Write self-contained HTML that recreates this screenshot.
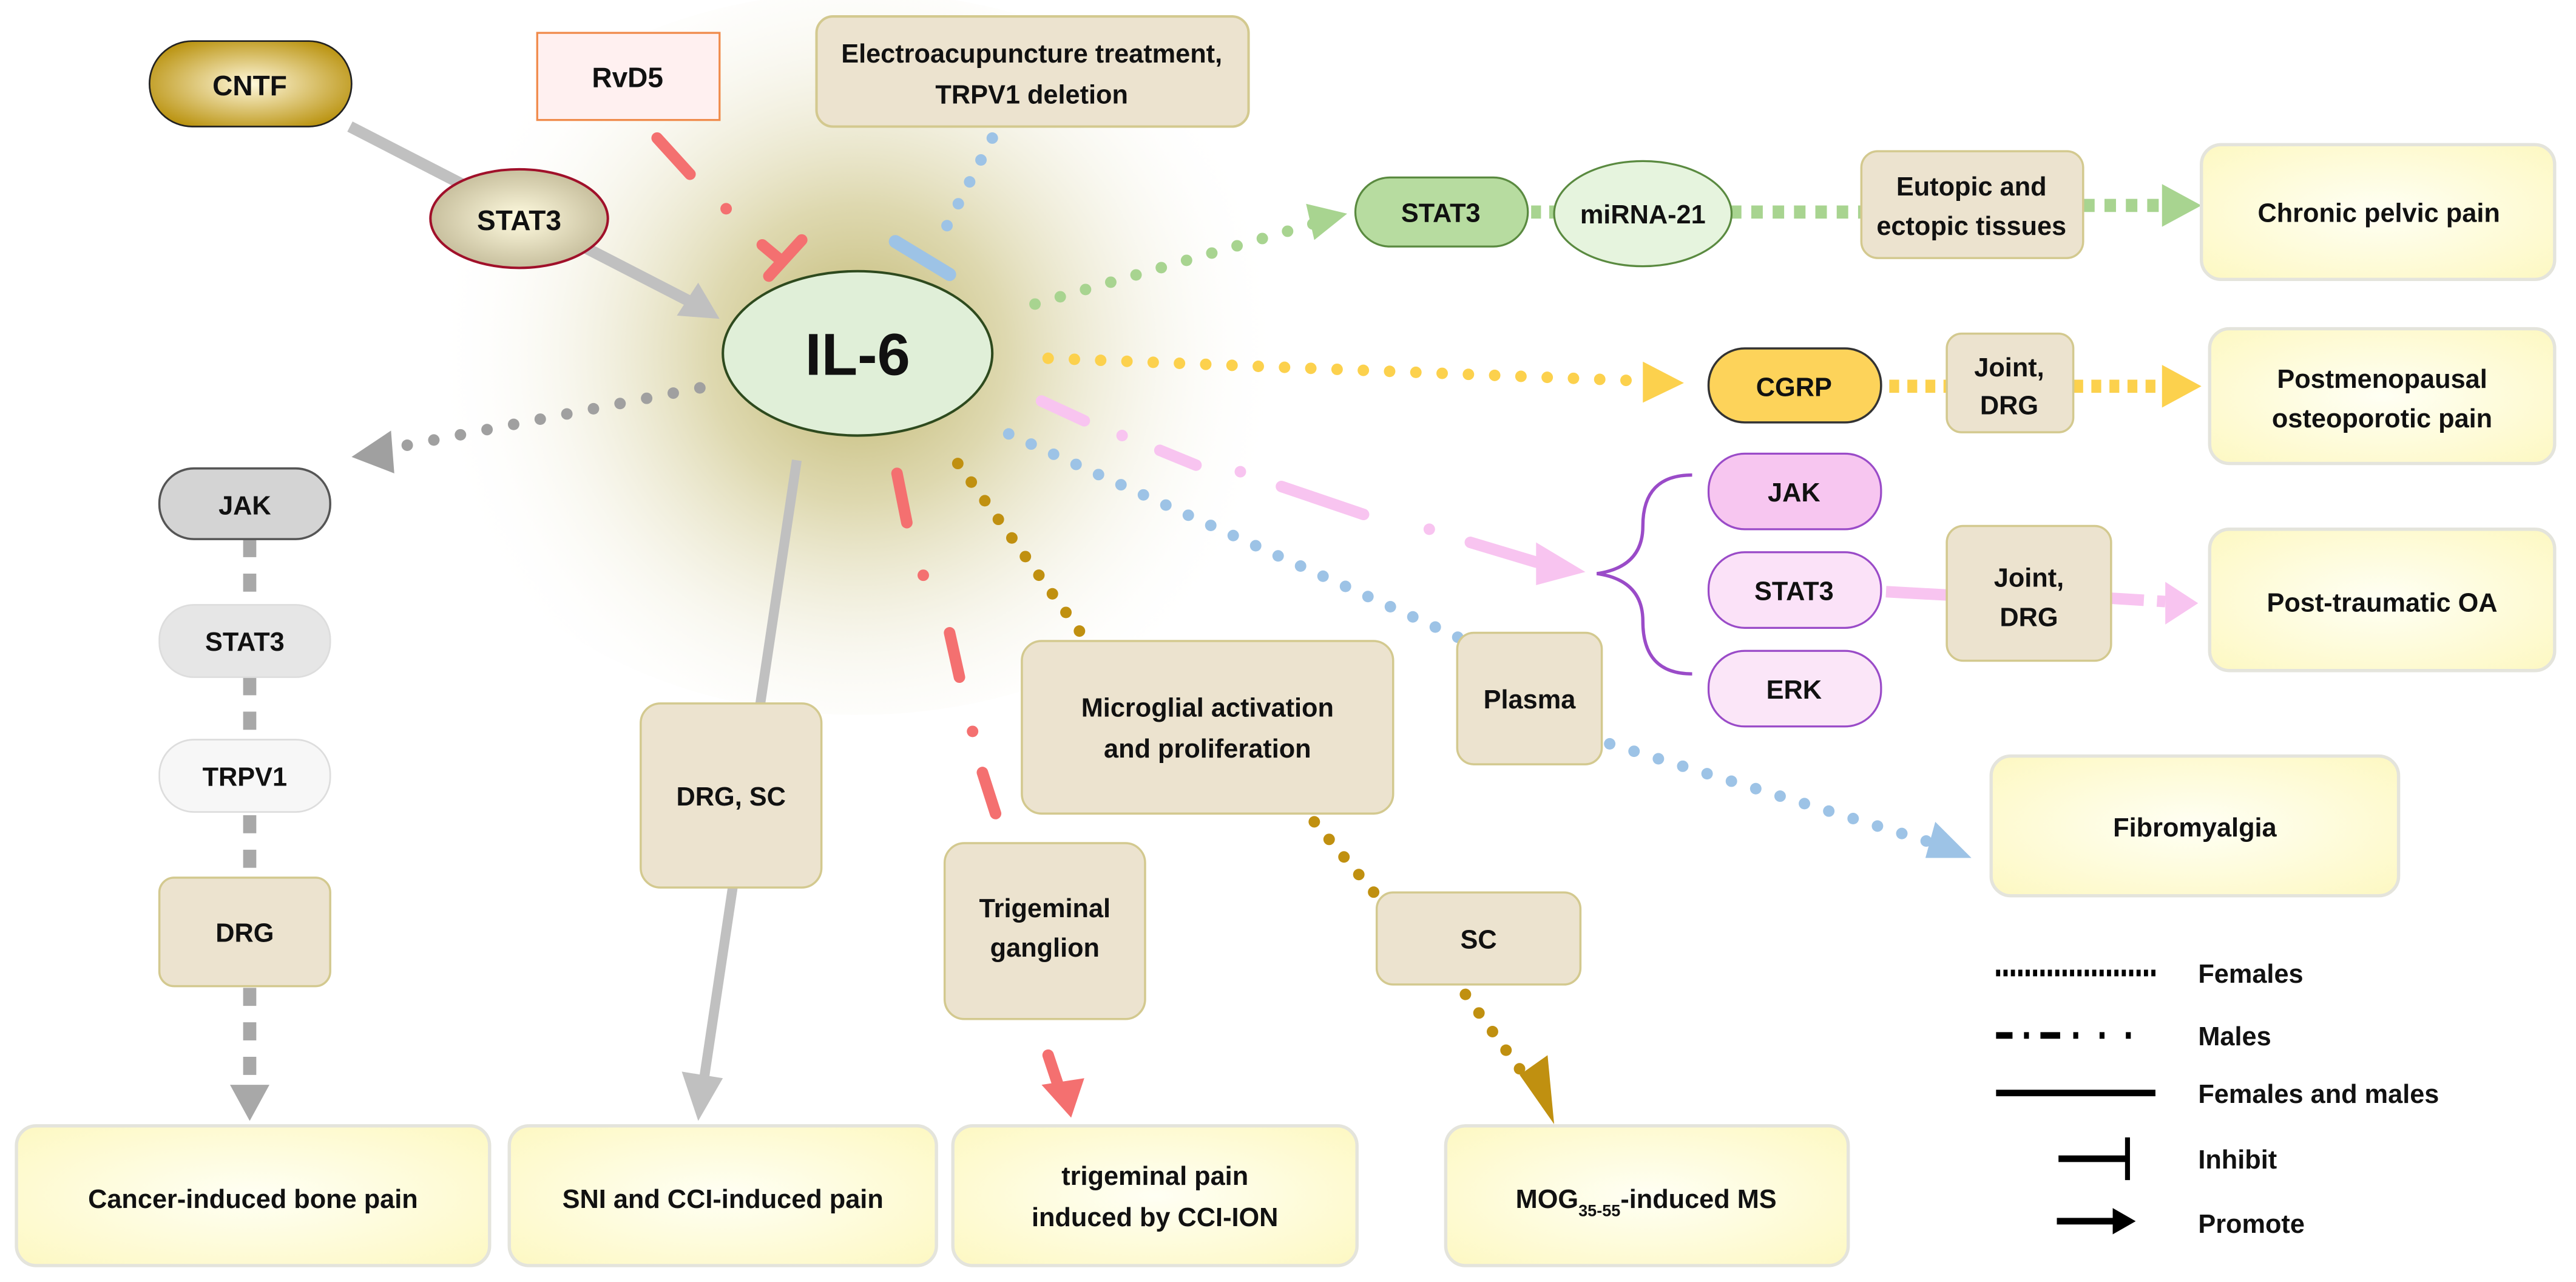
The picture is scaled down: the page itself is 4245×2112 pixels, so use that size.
<!DOCTYPE html>
<html><head><meta charset="utf-8"><style>
html,body{margin:0;padding:0;background:#fff;}
svg{display:block;}
text{font-family:"Liberation Sans",Arial,sans-serif;font-weight:bold;fill:#111;}
</style></head><body>
<svg width="4245" height="2112" viewBox="0 0 1568 780" preserveAspectRatio="none" xmlns="http://www.w3.org/2000/svg">
<defs>
<radialGradient id="glow" cx="522" cy="215" r="260" gradientUnits="userSpaceOnUse">
<stop offset="0" stop-color="#bdb36a"/><stop offset="0.35" stop-color="#d6cf9c" stop-opacity="0.8"/><stop offset="0.7" stop-color="#efecd8" stop-opacity="0.4"/><stop offset="1" stop-color="#fff" stop-opacity="0"/>
</radialGradient>
<radialGradient id="gold" cx="0.5" cy="0.5" r="0.6"><stop offset="0" stop-color="#fff8dc"/><stop offset="1" stop-color="#b8900a"/></radialGradient>
<radialGradient id="stg" cx="0.5" cy="0.5" r="0.6"><stop offset="0" stop-color="#fffbe0"/><stop offset="1" stop-color="#bdb491"/></radialGradient>
<radialGradient id="ly" cx="0.5" cy="0.5" r="0.7"><stop offset="0" stop-color="#fffff4"/><stop offset="1" stop-color="#fdf8c2"/></radialGradient>
</defs>
<rect width="1568" height="780" fill="#fff"/>
<ellipse cx="522" cy="215" rx="280" ry="220" fill="url(#glow)"/>

<line x1="213" y1="77" x2="425" y2="186" stroke="#c0c0c0" stroke-width="7"/>
<path d="M438,194 L412,192 L425,172 z" fill="#c0c0c0"/>
<rect x="91" y="25" width="123" height="52" rx="26" fill="url(#gold)" stroke="#222" stroke-width="1"/>
<text x="152" y="58" font-size="17" text-anchor="middle">CNTF</text>
<ellipse cx="316" cy="133" rx="54" ry="30" fill="url(#stg)" stroke="#a0102a" stroke-width="1.5"/>
<text x="316" y="140" font-size="17" text-anchor="middle">STAT3</text>

<rect x="327" y="20" width="111" height="53" fill="#fff0f0" stroke="#f08a4a" stroke-width="1.2"/>
<text x="382" y="53" font-size="17" text-anchor="middle">RvD5</text>
<path d="M400,84 L420,106" stroke="#f47070" stroke-width="7" stroke-linecap="round"/>
<circle cx="442" cy="127" r="3.5" fill="#f47070"/>
<path d="M464,149 L476,159" stroke="#f47070" stroke-width="7" stroke-linecap="round"/>
<path d="M468,168 L488,146" stroke="#f47070" stroke-width="7" stroke-linecap="round"/>

<rect x="497" y="10" width="263" height="67" rx="10" fill="#ece3cf" stroke="#d3c98f" stroke-width="1.5"/>
<text x="628" y="38" font-size="16" text-anchor="middle">Electroacupuncture treatment,</text>
<text x="628" y="63" font-size="16" text-anchor="middle">TRPV1 deletion</text>
<line x1="604" y1="84" x2="574" y2="142" stroke="#9dc3e6" stroke-width="7" stroke-linecap="round" stroke-dasharray="0 15"/>
<line x1="545" y1="147" x2="578" y2="167" stroke="#9dc3e6" stroke-width="8" stroke-linecap="round"/>

<ellipse cx="522" cy="215" rx="82" ry="50" fill="#e0efd8" stroke="#2e4a1e" stroke-width="1.5"/>
<text x="522" y="228" font-size="36" text-anchor="middle">IL-6</text>

<line x1="426" y1="236" x2="232" y2="274" stroke="#a0a0a0" stroke-width="7" stroke-linecap="round" stroke-dasharray="0 16.5"/>
<path d="M214,278 L238,262 L240,288 z" fill="#a0a0a0"/>
<line x1="152" y1="328" x2="152" y2="668" stroke="#a8a8a8" stroke-width="8" stroke-dasharray="11 10"/>
<path d="M140,660 L164,660 L152,682 z" fill="#a8a8a8"/>
<rect x="97" y="285" width="104" height="43" rx="21" fill="#d4d4d4" stroke="#555" stroke-width="1.3"/>
<text x="149" y="313" font-size="16" text-anchor="middle">JAK</text>
<rect x="97" y="368" width="104" height="44" rx="21" fill="#e6e6e6" stroke="#ddd" stroke-width="1"/>
<text x="149" y="396" font-size="16" text-anchor="middle">STAT3</text>
<rect x="97" y="450" width="104" height="44" rx="21" fill="#f7f7f7" stroke="#ddd" stroke-width="1"/>
<text x="149" y="478" font-size="16" text-anchor="middle">TRPV1</text>
<rect x="97" y="534" width="104" height="66" rx="9" fill="#ece3cf" stroke="#d3c98f" stroke-width="1.3"/>
<text x="149" y="573" font-size="16" text-anchor="middle">DRG</text>
<rect x="10" y="685" width="288" height="85" rx="12" fill="url(#ly)" stroke="#e4e4dc" stroke-width="2"/>
<text x="154" y="735" font-size="16" text-anchor="middle">Cancer-induced bone pain</text>

<line x1="485" y1="280" x2="428" y2="660" stroke="#c0c0c0" stroke-width="6"/>
<path d="M415,652 L440,656 L425,682 z" fill="#c0c0c0"/>
<rect x="390" y="428" width="110" height="112" rx="12" fill="#ece3cf" stroke="#d3c98f" stroke-width="1.3"/>
<text x="445" y="490" font-size="16" text-anchor="middle">DRG, SC</text>
<rect x="310" y="685" width="260" height="85" rx="12" fill="url(#ly)" stroke="#e4e4dc" stroke-width="2"/>
<text x="440" y="735" font-size="16" text-anchor="middle">SNI and CCI-induced pain</text>

<path d="M546,288 L552,318" stroke="#f47070" stroke-width="7" stroke-linecap="round"/>
<circle cx="562" cy="350" r="3.5" fill="#f47070"/>
<path d="M578,385 L584,412" stroke="#f47070" stroke-width="7" stroke-linecap="round"/>
<circle cx="592" cy="445" r="3.5" fill="#f47070"/>
<path d="M598,470 L606,495" stroke="#f47070" stroke-width="7" stroke-linecap="round"/>
<path d="M638,642 L644,660" stroke="#f47070" stroke-width="7" stroke-linecap="round"/>
<path d="M634,660 L660,656 L652,680 z" fill="#f47070"/>
<rect x="575" y="513" width="122" height="107" rx="12" fill="#ece3cf" stroke="#d3c98f" stroke-width="1.3"/>
<text x="636" y="558" font-size="16" text-anchor="middle">Trigeminal</text>
<text x="636" y="582" font-size="16" text-anchor="middle">ganglion</text>
<rect x="580" y="685" width="246" height="85" rx="12" fill="url(#ly)" stroke="#e4e4dc" stroke-width="2"/>
<text x="703" y="721" font-size="16" text-anchor="middle">trigeminal pain</text>
<text x="703" y="746" font-size="16" text-anchor="middle">induced by CCI-ION</text>

<line x1="583" y1="282" x2="660" y2="388" stroke="#c09010" stroke-width="7" stroke-linecap="round" stroke-dasharray="0 14"/>
<line x1="800" y1="500" x2="838" y2="545" stroke="#c09010" stroke-width="7" stroke-linecap="round" stroke-dasharray="0 14"/>
<line x1="892" y1="605" x2="932" y2="660" stroke="#c09010" stroke-width="7" stroke-linecap="round" stroke-dasharray="0 14"/>
<path d="M925,654 L942,642 L946,684 z" fill="#c09010"/>
<rect x="622" y="390" width="226" height="105" rx="12" fill="#ece3cf" stroke="#d3c98f" stroke-width="1.3"/>
<text x="735" y="436" font-size="16" text-anchor="middle">Microglial activation</text>
<text x="735" y="461" font-size="16" text-anchor="middle">and proliferation</text>
<rect x="838" y="543" width="124" height="56" rx="10" fill="#ece3cf" stroke="#d3c98f" stroke-width="1.3"/>
<text x="900" y="577" font-size="16" text-anchor="middle">SC</text>
<rect x="880" y="685" width="245" height="85" rx="12" fill="url(#ly)" stroke="#e4e4dc" stroke-width="2"/>
<text x="1002" y="735" font-size="16" text-anchor="middle">MOG<tspan font-size="10" dy="5">35-55</tspan><tspan dy="-5">-induced MS</tspan></text>

<line x1="614" y1="264" x2="888" y2="388" stroke="#9dc3e6" stroke-width="7" stroke-linecap="round" stroke-dasharray="0 15"/>
<line x1="965" y1="448" x2="1180" y2="514" stroke="#9dc3e6" stroke-width="7" stroke-linecap="round" stroke-dasharray="0 15.5"/>
<path d="M1178,500 L1200,522 L1172,522 z" fill="#9dc3e6"/>
<rect x="887" y="385" width="88" height="80" rx="10" fill="#ece3cf" stroke="#d3c98f" stroke-width="1.3"/>
<text x="931" y="431" font-size="16" text-anchor="middle">Plasma</text>
<rect x="1212" y="460" width="248" height="85" rx="12" fill="url(#ly)" stroke="#e4e4dc" stroke-width="2"/>
<text x="1336" y="509" font-size="16" text-anchor="middle">Fibromyalgia</text>

<path d="M634,244 L660,256" stroke="#f8c4f0" stroke-width="7" stroke-linecap="round"/>
<circle cx="683" cy="265" r="3.5" fill="#f8c4f0"/>
<path d="M706,274 L728,283" stroke="#f8c4f0" stroke-width="7" stroke-linecap="round"/>
<circle cx="755" cy="287" r="3.5" fill="#f8c4f0"/>
<path d="M780,296 L830,313" stroke="#f8c4f0" stroke-width="7" stroke-linecap="round"/>
<circle cx="870" cy="322" r="3.5" fill="#f8c4f0"/>
<path d="M895,330 L935,342" stroke="#f8c4f0" stroke-width="7" stroke-linecap="round"/>
<path d="M935,330 L965,348 L935,356 z" fill="#f8c4f0"/>
<path d="M1030,289 Q1000,289 1000,320 Q1000,345 972,349 Q1000,353 1000,378 Q1000,410 1030,410" fill="none" stroke="#9a4bc8" stroke-width="2"/>
<rect x="1040" y="276" width="105" height="46" rx="22" fill="#f7c6f0" stroke="#9a4bc8" stroke-width="1.2"/>
<text x="1092" y="305" font-size="16" text-anchor="middle">JAK</text>
<rect x="1040" y="336" width="105" height="46" rx="22" fill="#fbe2f8" stroke="#9a4bc8" stroke-width="1.2"/>
<text x="1092" y="365" font-size="16" text-anchor="middle">STAT3</text>
<rect x="1040" y="396" width="105" height="46" rx="22" fill="#fbe6f8" stroke="#9a4bc8" stroke-width="1.2"/>
<text x="1092" y="425" font-size="16" text-anchor="middle">ERK</text>
<line x1="1148" y1="360" x2="1185" y2="362" stroke="#f8c4f0" stroke-width="7"/>
<line x1="1285" y1="364" x2="1318" y2="366" stroke="#f8c4f0" stroke-width="7" stroke-dasharray="20 8"/>
<path d="M1318,354 L1338,367 L1318,380 z" fill="#f8c4f0"/>
<rect x="1185" y="320" width="100" height="82" rx="10" fill="#ece3cf" stroke="#d3c98f" stroke-width="1.3"/>
<text x="1235" y="357" font-size="16" text-anchor="middle">Joint,</text>
<text x="1235" y="381" font-size="16" text-anchor="middle">DRG</text>
<rect x="1345" y="322" width="210" height="86" rx="12" fill="url(#ly)" stroke="#e4e4dc" stroke-width="2"/>
<text x="1450" y="372" font-size="16" text-anchor="middle">Post-traumatic OA</text>

<line x1="638" y1="218" x2="1005" y2="232" stroke="#fcd14d" stroke-width="7" stroke-linecap="round" stroke-dasharray="0 16"/>
<path d="M1000,220 L1025,233 L1000,245 z" fill="#fcd14d"/>
<line x1="1150" y1="235" x2="1185" y2="235" stroke="#fcd14d" stroke-width="8" stroke-dasharray="6 5"/>
<line x1="1262" y1="235" x2="1318" y2="235" stroke="#fcd14d" stroke-width="8" stroke-dasharray="6 5"/>
<path d="M1316,222 L1340,235 L1316,248 z" fill="#fcd14d"/>
<rect x="1040" y="212" width="105" height="45" rx="22" fill="#fdd35a" stroke="#333" stroke-width="1.3"/>
<text x="1092" y="241" font-size="16" text-anchor="middle">CGRP</text>
<rect x="1185" y="203" width="77" height="60" rx="9" fill="#ece3cf" stroke="#d3c98f" stroke-width="1.3"/>
<text x="1223" y="229" font-size="16" text-anchor="middle">Joint,</text>
<text x="1223" y="252" font-size="16" text-anchor="middle">DRG</text>
<rect x="1345" y="200" width="210" height="82" rx="12" fill="url(#ly)" stroke="#e4e4dc" stroke-width="2"/>
<text x="1450" y="236" font-size="16" text-anchor="middle">Postmenopausal</text>
<text x="1450" y="260" font-size="16" text-anchor="middle">osteoporotic pain</text>

<line x1="630" y1="185" x2="800" y2="136" stroke="#a8d490" stroke-width="7" stroke-linecap="round" stroke-dasharray="0 16"/>
<path d="M795,124 L820,130 L800,146 z" fill="#a8d490"/>
<line x1="932" y1="129" x2="948" y2="129" stroke="#a8d490" stroke-width="8" stroke-dasharray="6 5"/>
<line x1="1053" y1="129" x2="1133" y2="129" stroke="#a8d490" stroke-width="8" stroke-dasharray="7 6"/>
<line x1="1268" y1="125" x2="1318" y2="125" stroke="#a8d490" stroke-width="8" stroke-dasharray="7 6"/>
<path d="M1316,112 L1340,125 L1316,138 z" fill="#a8d490"/>
<rect x="825" y="108" width="105" height="42" rx="21" fill="#b7dca0" stroke="#5a8a40" stroke-width="1.2"/>
<text x="877" y="135" font-size="16" text-anchor="middle">STAT3</text>
<ellipse cx="1000" cy="130" rx="54" ry="32" fill="#e6f4de" stroke="#5a8a40" stroke-width="1.2"/>
<text x="1000" y="136" font-size="16" text-anchor="middle">miRNA-21</text>
<rect x="1133" y="92" width="135" height="65" rx="10" fill="#ece3cf" stroke="#d3c98f" stroke-width="1.3"/>
<text x="1200" y="119" font-size="16" text-anchor="middle">Eutopic and</text>
<text x="1200" y="143" font-size="16" text-anchor="middle">ectopic tissues</text>
<rect x="1340" y="88" width="215" height="82" rx="12" fill="url(#ly)" stroke="#e4e4dc" stroke-width="2"/>
<text x="1448" y="135" font-size="16" text-anchor="middle">Chronic pelvic pain</text>

<line x1="1215" y1="592" x2="1312" y2="592" stroke="#000" stroke-width="4" stroke-dasharray="2.5 2"/>
<text x="1338" y="598" font-size="16">Females</text>
<path d="M1215,630 h10 M1232,630 h3 M1242,630 h12 M1262,630 h3 M1278,630 h3 M1294,630 h3" stroke="#000" stroke-width="4"/>
<text x="1338" y="636" font-size="16">Males</text>
<line x1="1215" y1="665" x2="1312" y2="665" stroke="#000" stroke-width="4"/>
<text x="1338" y="671" font-size="16">Females and males</text>
<line x1="1253" y1="705" x2="1295" y2="705" stroke="#000" stroke-width="4"/>
<line x1="1295" y1="692" x2="1295" y2="718" stroke="#000" stroke-width="3"/>
<text x="1338" y="711" font-size="16">Inhibit</text>
<line x1="1252" y1="743" x2="1290" y2="743" stroke="#000" stroke-width="4"/>
<path d="M1286,735 L1300,743 L1286,751 z" fill="#000"/>
<text x="1338" y="750" font-size="16">Promote</text>
</svg>
</body></html>
